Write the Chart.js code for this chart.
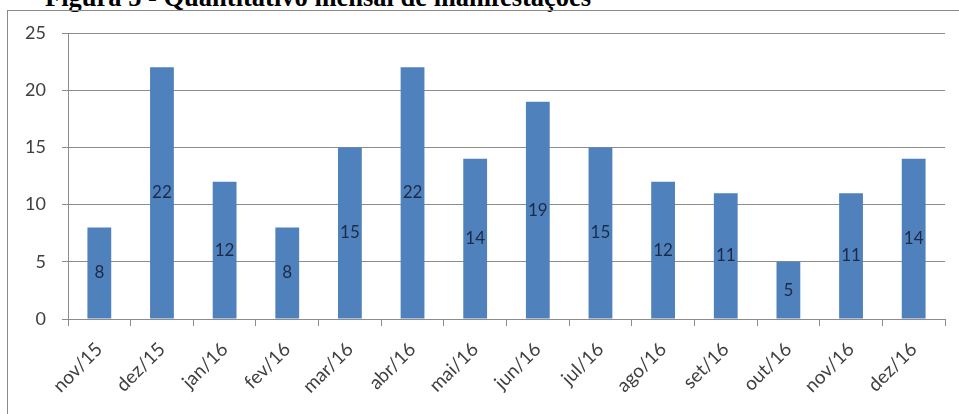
<!DOCTYPE html>
<html>
<head>
<meta charset="utf-8">
<script src="https://cdn.jsdelivr.net/npm/chart.js@4.4.0/dist/chart.umd.min.js"></script>
<style>
  html, body { margin: 0; padding: 0; background: #fff; }
  body { width: 959px; height: 414px; position: relative; overflow: hidden; }
  #title {
    position: absolute; left: 45px; top: -13px; white-space: nowrap;
    font-family: "Liberation Serif", "Times New Roman", serif; font-weight: bold;
    font-size: 26.5px; line-height: 20px; color: #000;
  }
  #frame {
    position: absolute; left: 7px; top: 10px; width: 1000px; height: 500px;
    border-left: 1px solid #8a8a8a; border-top: 1px solid #8a8a8a;
  }
  #wrap { position: absolute; left: 0; top: 0; width: 959px; height: 414px; }
</style>
</head>
<body>
<div id="title">Figura 5 - Quantitativo mensal de manifestações</div>
<div id="frame"></div>
<div id="wrap"><canvas id="myChart"></canvas></div>
<script>
// months on the x axis
const months = ['nov/15', 'dez/15', 'jan/16', 'fev/16', 'mar/16', 'abr/16', 'mai/16',
    'jun/16', 'jul/16', 'ago/16', 'set/16', 'out/16', 'nov/16', 'dez/16'];
// number of manifestações per month
const counts = [8, 22, 12, 8, 15, 22, 14, 19, 15, 12, 11, 5, 11, 14];
const yTicks = [0, 5, 10, 15, 20, 25];

const barBlue = '#4F81BD';
const axisGrey = '#8c8c8c';
const labelFont = 'Lato, "Liberation Sans", sans-serif';

// write the value in the middle of each bar
const midLabels = {
    id: 'midLabels',
    afterDatasetsDraw(chart) {
        const ctx = chart.ctx;
        const meta = chart.getDatasetMeta(0);
        ctx.save();
        ctx.font = '17px ' + labelFont;
        ctx.fillStyle = '#1c2a48';
        ctx.textAlign = 'center';
        ctx.textBaseline = 'middle';
        meta.data.forEach((bar, i) => {
            ctx.fillText(String(counts[i]), bar.x, (bar.y + bar.base) / 2);
        });
        ctx.restore();
    }
};

new Chart(document.getElementById('myChart').getContext('2d'), {
    type: 'bar',
    data: {
        labels: months,
        datasets: [{
            label: 'Manifestações',
            data: counts,
            backgroundColor: barBlue,
            borderWidth: 0,
            barPercentage: 0.38,
            categoryPercentage: 1
        }]
    },
    options: {
        responsive: true,
        maintainAspectRatio: false,
        animation: false,
        layout: { padding: { left: 0, right: 14, top: 33, bottom: 0 } },
        plugins: {
            legend: { display: false },
            tooltip: { enabled: false }
        },
        scales: {
            x: {
                afterFit(scale) { scale.height = 95; },
                grid: {
                    offset: true,
                    drawOnChartArea: false,
                    drawTicks: true,
                    tickLength: 7,
                    color: axisGrey
                },
                border: { color: axisGrey },
                ticks: {
                    autoSkip: false,
                    maxRotation: 45,
                    minRotation: 45,
                    padding: 12,
                    color: '#404040',
                    font: { family: labelFont, size: 19 }
                }
            },
            y: {
                min: 0,
                max: 25,
                afterFit(scale) { scale.width = 68; },
                afterBuildTicks(scale) { scale.ticks = yTicks.map(v => ({ value: v })); },
                grid: {
                    color: axisGrey,
                    drawTicks: true,
                    tickLength: 6
                },
                border: { color: axisGrey },
                ticks: {
                    padding: 16,
                    color: '#404040',
                    font: { family: labelFont, size: 18 }
                }
            }
        }
    },
    plugins: [midLabels]
});
</script>
</body>
</html>
